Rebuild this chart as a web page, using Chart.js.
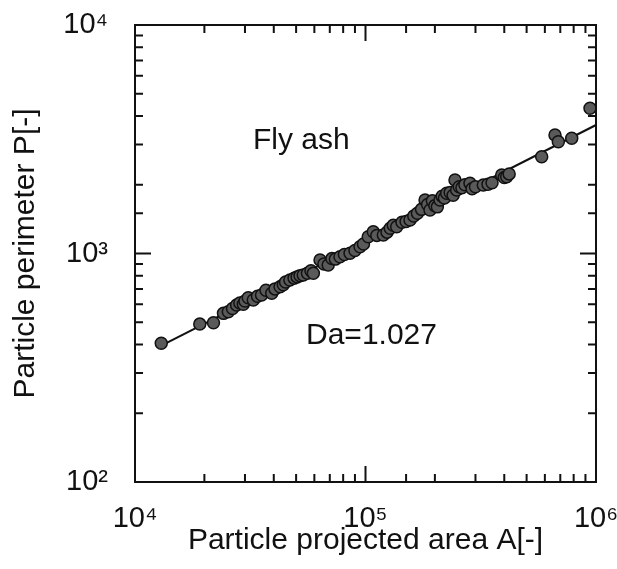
<!DOCTYPE html>
<html>
<head>
<meta charset="utf-8">
<script src="https://cdn.jsdelivr.net/npm/chart.js@4.4.0/dist/chart.umd.min.js"></script>
<style>
  html, body { margin: 0; padding: 0; background: #fff; }
  #wrap { width: 617px; height: 569px; }
</style>
</head>
<body>
<div id="wrap"><canvas id="chart" width="617" height="569"></canvas></div>
<script>
// Fly ash particles: projected area A[-] vs perimeter P[-]
const areaA = [
    13000, 19100, 21900, 24200, 25400, 26500, 27600, 28500, 29500, 30000,
    31000, 32600, 34000, 35400, 37000, 39200, 40500, 42600, 44000, 45000,
    47000, 49000, 50500, 52000, 53700, 56000, 58000, 59400, 63500, 66000,
    68900, 71500, 74000, 77500, 81000, 85700, 90000, 94700, 98000, 102800,
    108100, 112000, 119500, 124000, 128000, 132000, 136600, 144000, 150000, 156000,
    162000, 168000, 175000, 181300, 186000, 190500, 195000, 200000, 205000, 210500,
    215000, 220000, 225100, 233000, 240000, 244500, 248700, 255000, 262000, 270000,
    284000, 290000, 300000, 324400, 340000, 354000, 389900, 400000, 409900, 420000,
    581300, 664000, 686300, 784700, 941900
];
const perimeterP = [
    405, 491, 498, 547, 556, 575, 595, 607, 600, 620,
    640, 626, 650, 658, 690, 670, 700, 715, 730, 750,
    766, 780, 790, 800, 805, 820, 840, 819, 937, 900,
    891, 950, 945, 968, 990, 1002, 1030, 1071, 1100, 1184,
    1246, 1200, 1205, 1240, 1290, 1330, 1310, 1370, 1380, 1402,
    1460, 1500, 1560, 1714, 1640, 1550, 1700, 1620, 1600, 1714,
    1780, 1750, 1834, 1850, 1800, 2098, 1896, 1960, 1940, 2000,
    2029, 1920, 1960, 1994, 2010, 2040, 2205, 2150, 2168, 2230,
    2652, 3301, 3085, 3193, 4320
];

// fitted line, Da = 1.027
const fitA = [13000, 1000000];
const fitP = [395, 3650];

const xTickValues = [1e4, 1e5, 1e6];
const xTickLabels = ['10⁴', '10⁵', '10⁶'];
const yTickValues = [1e2, 1e3, 1e4];
const yTickLabels = ['10²', '10³', '10⁴'];

const FONT = '"Liberation Sans", Arial, Helvetica, sans-serif';

function isPow10(v) {
    const l = Math.log10(v);
    return Math.abs(l - Math.round(l)) < 1e-9;
}

function labelFor(values, labels, v) {
    for (let i = 0; i < values.length; i++) {
        if (Math.abs(Math.log10(v) - Math.log10(values[i])) < 1e-9) return labels[i];
    }
    return '';
}

// box frame, inward ticks on all four sides, and the two text notes
const frameTicks = {
    id: 'frameTicks',
    afterDatasetsDraw(chart) {
        const { ctx, chartArea: a, scales: { x, y } } = chart;
        ctx.save();
        ctx.strokeStyle = '#111';
        ctx.lineWidth = 2;
        ctx.strokeRect(a.left, a.top, a.right - a.left, a.bottom - a.top);

        ctx.beginPath();
        x.ticks.forEach(t => {
            const px = x.getPixelForValue(t.value);
            const len = isPow10(t.value) ? 16 : 8;
            ctx.moveTo(px, a.bottom); ctx.lineTo(px, a.bottom - len);
            ctx.moveTo(px, a.top); ctx.lineTo(px, a.top + len);
        });
        y.ticks.forEach(t => {
            const py = y.getPixelForValue(t.value);
            const len = isPow10(t.value) ? 16 : 8;
            ctx.moveTo(a.left, py); ctx.lineTo(a.left + len, py);
            ctx.moveTo(a.right, py); ctx.lineTo(a.right - len, py);
        });
        ctx.stroke();

        ctx.fillStyle = '#111';
        ctx.font = '30px ' + FONT;
        ctx.textAlign = 'left';
        ctx.textBaseline = 'alphabetic';
        ctx.fillText('Fly ash', x.getPixelForValue(32500), y.getPixelForValue(2865));
        ctx.fillText('Da=1.027', x.getPixelForValue(55200), y.getPixelForValue(402));
        ctx.restore();
    }
};

const ctx = document.getElementById('chart');
new Chart(ctx, {
    type: 'scatter',
    data: {
        datasets: [
            {
                label: 'Fly ash',
                data: areaA.map((a, i) => ({ x: a, y: perimeterP[i] })),
                pointRadius: 6,
                pointBackgroundColor: '#5a5a5a',
                pointBorderColor: '#111',
                pointBorderWidth: 1.5,
                order: 0
            },
            {
                label: 'Da=1.027',
                type: 'line',
                data: fitA.map((a, i) => ({ x: a, y: fitP[i] })),
                borderColor: '#111',
                borderWidth: 2,
                pointRadius: 0,
                fill: false,
                order: 1
            }
        ]
    },
    options: {
        responsive: false,
        animation: false,
        devicePixelRatio: 1,
        layout: { padding: { top: 25, right: 21, left: 0, bottom: 0 } },
        plugins: {
            legend: { display: false },
            tooltip: { enabled: false }
        },
        scales: {
            x: {
                type: 'logarithmic',
                min: 1e4,
                max: 1e6,
                grid: { display: false, drawTicks: false },
                border: { display: false },
                afterFit: s => {
                    s.height = 87;
                    s.paddingLeft = 0;
                    s.paddingRight = 0;
                },
                ticks: {
                    autoSkip: false,
                    maxRotation: 0,
                    padding: 20,
                    color: '#111',
                    font: { family: FONT, size: 29 },
                    callback: v => labelFor(xTickValues, xTickLabels, v)
                },
                title: {
                    display: true,
                    text: 'Particle projected area A[-]',
                    color: '#111',
                    font: { family: FONT, size: 30 },
                    padding: { top: 0, bottom: 10 }
                }
            },
            y: {
                type: 'logarithmic',
                min: 1e2,
                max: 1e4,
                grid: { display: false, drawTicks: false },
                border: { display: false },
                afterFit: s => {
                    s.width = 135;
                    s.paddingTop = 0;
                    s.paddingBottom = 0;
                },
                ticks: {
                    autoSkip: false,
                    padding: 27,
                    color: '#111',
                    font: { family: FONT, size: 29 },
                    callback: v => labelFor(yTickValues, yTickLabels, v)
                },
                title: {
                    display: true,
                    text: 'Particle perimeter P[-]',
                    color: '#111',
                    font: { family: FONT, size: 30 },
                    padding: { top: 8, bottom: 0 }
                }
            }
        }
    },
    plugins: [frameTicks]
});
</script>
</body>
</html>
